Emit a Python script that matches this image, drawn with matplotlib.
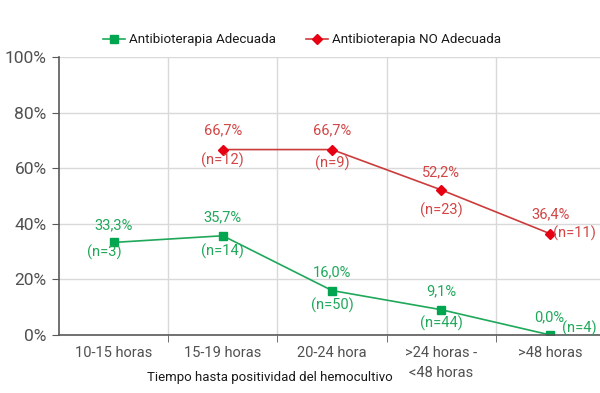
import matplotlib.pyplot as plt
import numpy as np

categorias = ['10-15 horas', '15-19 horas', '20-24 hora', '>24 horas -\n<48 horas', '>48 horas']
adecuada = [33.3, 35.7, 16.0, 9.1, 0.0]
adecuada_n = [3, 14, 50, 44, 4]
no_adecuada = [np.nan, 66.7, 66.7, 52.2, 36.4]
no_adecuada_n = [None, 12, 9, 23, 11]

verde = '#1FA85A'
rojo_linea = '#CC3B3B'
rojo_marca = '#E60012'
rojo_texto = '#D24545'

plt.rcParams['font.family'] = ['Roboto', 'DejaVu Sans']

fig = plt.figure(figsize=(6, 3.93), dpi=100)
ax = fig.add_axes([59 / 600, 58 / 393, 546 / 600, 278 / 393])
x = np.arange(len(categorias))

ax.plot(x, adecuada, color=verde, lw=1.2, marker='s', ms=6, mfc='#00A550', mec='#00A550',
        label='Antibioterapia Adecuada')
ax.plot(x, no_adecuada, color=rojo_linea, lw=1.2, marker='D', ms=5.5, mfc=rojo_marca, mec=rojo_marca,
        label='Antibioterapia NO Adecuada')

# etiquetas de datos (offsets en puntos)
pct_off = [(0, 12), (0, 13), (0, 13), (0, 13), (-1, 13)]
n_off = [(-7, -7), (0, -11), (0, -11), (0, -10), (21, 5)]
for i, (v, n) in enumerate(zip(adecuada, adecuada_n)):
    ax.annotate(f'{v:.1f}%'.replace('.', ','), (i, v), xytext=pct_off[i], textcoords='offset points',
                ha='center', va='center', color=verde, fontsize=10.5)
    ax.annotate(f'(n={n})', (i, v), xytext=n_off[i], textcoords='offset points',
                ha='center', va='center', color=verde, fontsize=10.5)

pct_off_r = [None, (0, 14), (0, 14), (0, 13), (0, 14)]
n_off_r = [None, (0, -8), (0, -10), (0, -15), (17, 0)]
for i, (v, n) in enumerate(zip(no_adecuada, no_adecuada_n)):
    if n is None:
        continue
    ax.annotate(f'{v:.1f}%'.replace('.', ','), (i, v), xytext=pct_off_r[i], textcoords='offset points',
                ha='center', va='center', color=rojo_texto, fontsize=10.5)
    ax.annotate(f'(n={n})', (i, v), xytext=n_off_r[i], textcoords='offset points',
                ha='center', va='center', color=rojo_texto, fontsize=10.5)

ax.set_xlim(-0.5, 4.5)
ax.set_ylim(0, 100)
ax.set_yticks(np.arange(0, 101, 20))
ax.set_yticklabels([f'{t}%' for t in range(0, 101, 20)], fontsize=12.5, color='#505050')
ax.set_xticks(x)
ax.set_xticklabels(categorias, fontsize=10.5, color='#505050', linespacing=1.5)
ax.set_xticks(np.arange(0.5, 4.5, 1), minor=True)
ax.tick_params(axis='x', which='major', length=0, pad=8)
ax.tick_params(axis='x', which='minor', length=5, color='#595959', direction='out')
ax.tick_params(axis='y', length=5, color='#595959', pad=4)

ax.grid(axis='y', color='#D9D9D9', lw=1)
ax.grid(axis='x', which='minor', color='#D9D9D9', lw=1)
ax.set_axisbelow(True)
for s in ['top', 'right']:
    ax.spines[s].set_visible(False)
for s in ['left', 'bottom']:
    ax.spines[s].set_color('#595959')
    ax.spines[s].set_linewidth(1.2)

fig.text(270 / 600, 1 - 378 / 393, 'Tiempo hasta positividad del hemocultivo',
         ha='center', va='center', fontsize=9.5, color='#1a1a1a')

leg = fig.legend(loc='center', bbox_to_anchor=(302 / 600, 1 - 40 / 393), ncol=2, frameon=False,
                 handlelength=1.7, columnspacing=2.2, handletextpad=0.3,
                 prop={'size': 9.6})
for t in leg.get_texts():
    t.set_color('#1a1a1a')

fig.savefig('out.png', dpi=100)
